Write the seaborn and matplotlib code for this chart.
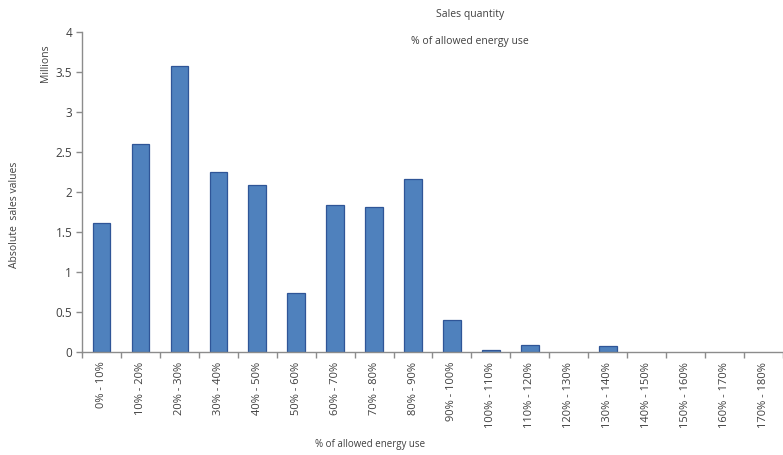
import matplotlib
matplotlib.use("Agg")
import matplotlib.pyplot as plt
import pandas as pd
import seaborn as sns

# Chart data (millions of units)
categories = ["0% - 10%", "10% - 20%", "20% - 30%", "30% - 40%", "40% - 50%",
              "50% - 60%", "60% - 70%", "70% - 80%", "80% - 90%", "90% - 100%",
              "100% - 110%", "110% - 120%", "120% - 130%", "130% - 140%",
              "140% - 150%", "150% - 160%", "160% - 170%", "170% - 180%"]
sales_millions = [1.61, 2.60, 3.58, 2.25, 2.09, 0.74, 1.84, 1.81, 2.16, 0.40,
                  0.03, 0.09, 0.0, 0.07, 0.0, 0.0, 0.0, 0.0]
y_ticks = [0, 0.5, 1, 1.5, 2, 2.5, 3, 3.5, 4]
y_tick_labels = ["0", "0.5", "1", "1.5", "2", "2.5", "3", "3.5", "4"]

df = pd.DataFrame({"band": categories, "sales": sales_millions})

sns.set_theme(style="white")
plt.rcParams["font.family"] = ["Open Sans", "DejaVu Sans"]

text_col = "#404040"
axis_col = "#8c8c8c"

fig = plt.figure(figsize=(7.83, 4.55), dpi=100)
ax = fig.add_axes([0.1047, 0.2264, 0.8953, 0.7033])

sns.barplot(data=df, x="band", y="sales", ax=ax, color="#4f81bd",
            saturation=1, width=0.45, edgecolor="#2f5597", linewidth=0.9)

# empty bands draw no outline on the axis
for patch in ax.patches:
    if patch.get_height() == 0:
        patch.set_linewidth(0)

ax.set_xlim(-0.5, len(categories) - 0.5)
ax.set_ylim(0, 4)
ax.set_yticks(y_ticks)
ax.set_yticklabels(y_tick_labels, fontsize=8.5, color=text_col)

# Excel-style ticks between categories
ax.set_xticks([i for i in range(len(categories))])
ax.set_xticklabels(categories, rotation=90, fontsize=8, color=text_col)
ax.set_xticks([i - 0.5 for i in range(len(categories) + 1)], minor=True)
ax.tick_params(axis="x", which="major", length=0, pad=7)
ax.tick_params(axis="x", which="minor", length=4, color=axis_col, width=1,
               direction="out", bottom=True)
ax.tick_params(axis="y", length=4, color=axis_col, width=1, direction="out",
               left=True, pad=3)

for side in ["top", "right"]:
    ax.spines[side].set_visible(False)
for side in ["left", "bottom"]:
    ax.spines[side].set_color(axis_col)
    ax.spines[side].set_linewidth(1)

ax.set_xlabel("")
ax.set_ylabel("")

fig.text(0.6, 0.969, "Sales quantity", ha="center", va="center",
         fontsize=7.5, color=text_col)
fig.text(0.6, 0.908, "% of allowed energy use", ha="center", va="center",
         fontsize=7.5, color=text_col)
fig.text(0.0575, 0.862, "Millions", rotation=90, ha="center", va="center",
         fontsize=7.5, color=text_col)
fig.text(0.019, 0.527, "Absolute  sales values", rotation=90, ha="center",
         va="center", fontsize=7.5, color=text_col)
fig.text(0.473, 0.024, "% of allowed energy use", ha="center", va="center",
         fontsize=7, color=text_col)

plt.savefig("out.png", dpi=100)
plt.close()
